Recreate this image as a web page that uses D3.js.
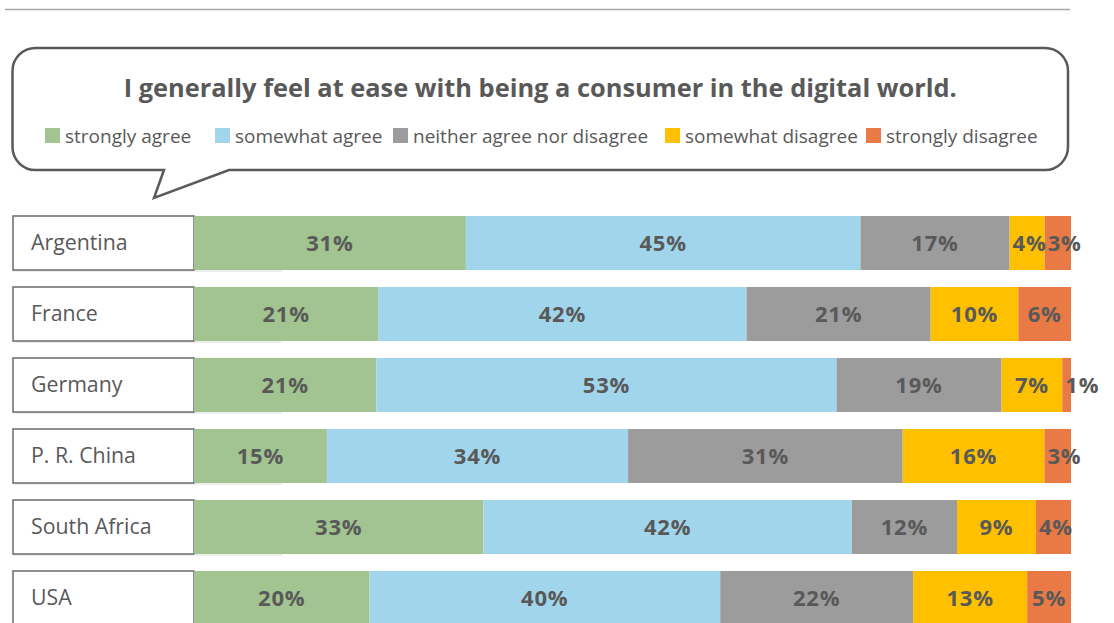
<!DOCTYPE html>
<html>
<head>
<meta charset="utf-8">
<script src="https://cdn.jsdelivr.net/npm/d3@7"></script>
<style>
  body { margin: 0; background: #fff; }
  svg { display: block; font-family: "Open Sans", sans-serif; }
</style>
</head>
<body>
<div id="chart"></div>
<script>
// data
const countries = ["Argentina", "France", "Germany", "P. R. China", "South Africa", "USA"];
const categories = ["strongly agree", "somewhat agree", "neither agree nor disagree", "somewhat disagree", "strongly disagree"];
const stronglyAgree = [31, 21, 21, 15, 33, 20];
const somewhatAgree = [45, 42, 53, 34, 42, 40];
const neitherNor = [17, 21, 19, 31, 12, 22];
const somewhatDisagree = [4, 10, 7, 16, 9, 13];
const stronglyDisagree = [3, 6, 1, 3, 4, 5];
const colors = ["#a1c490", "#a1d5ec", "#9c9c9c", "#ffc000", "#e97a45"];
const title = "I generally feel at ease with being a consumer in the digital world.";

const width = 1114;
const height = 623;
const textColor = "#595959";

const seriesValues = [stronglyAgree, somewhatAgree, neitherNor, somewhatDisagree, stronglyDisagree];
const rows = countries.map((c, i) => {
    const row = { country: c };
    categories.forEach((k, j) => row[k] = seriesValues[j][i]);
    return row;
});

const svg = d3.select("#chart")
    .append("svg")
    .attr("width", width)
    .attr("height", height);

// thin rule at the very top
svg.append("line")
    .attr("x1", 5).attr("x2", 1070)
    .attr("y1", 9.5).attr("y2", 9.5)
    .attr("stroke", "#a6a6a6")
    .attr("stroke-width", 1.5);

// speech bubble
const bx0 = 12.5, bx1 = 1068, by0 = 48, by1 = 170, r = 23;
const bubble = d3.path();
bubble.moveTo(bx0 + r, by0);
bubble.lineTo(bx1 - r, by0);
bubble.arcTo(bx1, by0, bx1, by0 + r, r);
bubble.lineTo(bx1, by1 - r);
bubble.arcTo(bx1, by1, bx1 - r, by1, r);
bubble.lineTo(229, by1);
bubble.lineTo(154, 198);
bubble.lineTo(164, by1);
bubble.lineTo(bx0 + r, by1);
bubble.arcTo(bx0, by1, bx0, by1 - r, r);
bubble.lineTo(bx0, by0 + r);
bubble.arcTo(bx0, by0, bx0 + r, by0, r);
bubble.closePath();

svg.append("path")
    .attr("d", bubble.toString())
    .attr("fill", "#fff")
    .attr("stroke", "#5a5a5a")
    .attr("stroke-width", 2.5);

svg.append("text")
    .attr("x", (bx0 + bx1) / 2)
    .attr("y", 97)
    .attr("text-anchor", "middle")
    .attr("font-weight", "bold")
    .attr("font-size", 25.4)
    .attr("fill", textColor)
    .text(title);

// legend
const legendX = [45, 215, 393, 665, 866];
const legend = svg.append("g");
const items = legend.selectAll("g")
    .data(categories)
    .enter()
    .append("g")
    .attr("transform", (d, i) => `translate(${legendX[i]}, 128)`);

items.append("rect")
    .attr("width", 15)
    .attr("height", 15)
    .attr("fill", (d, i) => colors[i]);

items.append("text")
    .attr("x", 20)
    .attr("y", 15)
    .attr("font-size", 19)
    .attr("fill", textColor)
    .text(d => d);

// scales
const x = d3.scaleLinear().domain([0, 1]).range([194, 1071]);
const y = d3.scaleBand()
    .domain(countries)
    .range([216, 216 + 71 * 6 - 17])
    .paddingInner(17 / 71)
    .paddingOuter(0);

const color = d3.scaleOrdinal().domain(categories).range(colors);

const stack = d3.stack()
    .keys(categories)
    .offset(d3.stackOffsetExpand);
const series = stack(rows);

// country label boxes
const labels = svg.append("g");
labels.selectAll("line")
    .data(countries)
    .enter()
    .append("line")
    .attr("x1", 13).attr("x2", 282)
    .attr("y1", d => y(d) + y.bandwidth() + 1)
    .attr("y2", d => y(d) + y.bandwidth() + 1)
    .attr("stroke", "#dcdcdc")
    .attr("stroke-width", 1);

labels.selectAll("rect")
    .data(countries)
    .enter()
    .append("rect")
    .attr("x", 13)
    .attr("y", d => y(d))
    .attr("width", x(0) - 13)
    .attr("height", y.bandwidth())
    .attr("fill", "#fff")
    .attr("stroke", "#6b6b6b")
    .attr("stroke-width", 1.5);

labels.selectAll("text")
    .data(countries)
    .enter()
    .append("text")
    .attr("x", 31)
    .attr("y", d => y(d) + y.bandwidth() / 2)
    .attr("dy", "0.35em")
    .attr("font-size", 21.3)
    .attr("fill", textColor)
    .text(d => d);

// stacked bars
const groups = svg.append("g")
    .selectAll("g")
    .data(series)
    .enter()
    .append("g")
    .attr("fill", d => color(d.key));

groups.selectAll("rect")
    .data(d => d)
    .enter()
    .append("rect")
    .attr("x", d => x(d[0]))
    .attr("y", d => y(d.data.country))
    .attr("width", d => x(d[1]) - x(d[0]))
    .attr("height", y.bandwidth());

// value labels
const valueLayer = svg.append("g");
series.forEach(s => {
    s.forEach(d => {
        const x0 = x(d[0]);
        const w = x(d[1]) - x0;
        const t = valueLayer.append("text")
            .attr("y", y(d.data.country) + y.bandwidth() / 2)
            .attr("dy", "0.35em")
            .attr("font-size", 22)
            .attr("font-weight", "bold")
            .attr("letter-spacing", 0.8)
            .attr("fill", textColor)
            .text(d.data[s.key] + "%");
        const tw = t.node().getComputedTextLength();
        if (tw + 4 > w) {
            t.attr("x", x0 + Math.min(3, w)).attr("text-anchor", "start");
        } else {
            t.attr("x", x0 + w / 2).attr("text-anchor", "middle");
        }
    });
});
</script>
</body>
</html>
